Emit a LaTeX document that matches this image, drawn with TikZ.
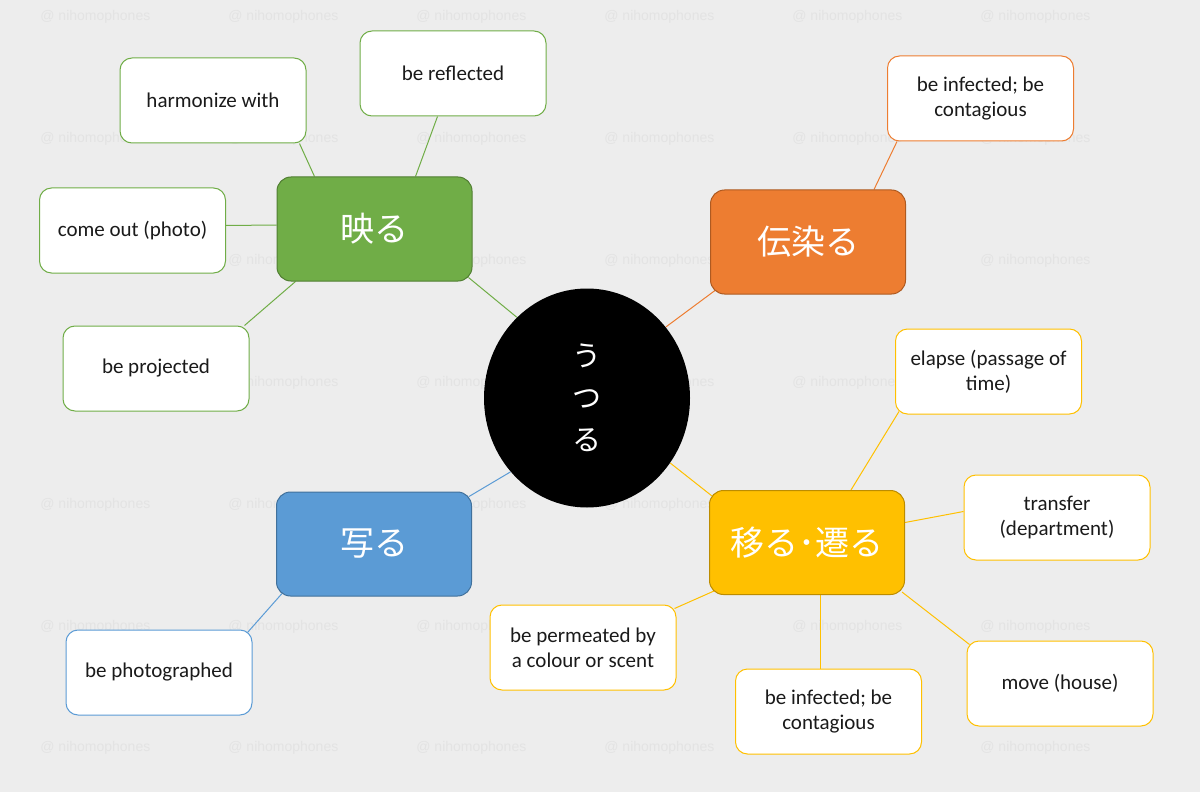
\documentclass[tikz,border=0pt]{standalone}
\usepackage{fontspec}
\setmainfont{Carlito}
\newfontfamily\jpfont{Noto Sans CJK JP}
\newfontfamily\wmfont{Liberation Sans}
\usetikzlibrary{calc,shapes.geometric}
\pgfdeclarelayer{background}
\pgfsetlayers{background,main}
\definecolor{bg}{HTML}{EDEDED}
\definecolor{wm}{HTML}{E3E3E3}
\definecolor{gr}{HTML}{70AD47}
\definecolor{grd}{HTML}{507E32}
\definecolor{org}{HTML}{ED7D31}
\definecolor{orgd}{HTML}{AE5A21}
\definecolor{yel}{HTML}{FFC000}
\definecolor{yeld}{HTML}{BC8C00}
\definecolor{blu}{HTML}{5B9BD5}
\definecolor{blud}{HTML}{41719C}
\definecolor{txt}{HTML}{1A1A1A}
\tikzset{
  leaf/.style={draw, line width=0.5pt, fill=white, rounded corners=6pt,
    minimum width=93pt, minimum height=42.5pt, inner sep=0pt, align=center,
    text=txt, font=\fontsize{10.5}{12.5}\selectfont},
  hub/.style={draw, line width=0.5pt, rounded corners=7pt,
    minimum width=97.5pt, minimum height=52pt, inner sep=0pt,
    text=white, font=\jpfont\fontsize{17}{19}\selectfont},
  link/.style={line width=0.5pt},
  wmark/.style={anchor=west, text=wm, font=\wmfont\fontsize{7}{8}\selectfont, inner sep=0pt}
}
\begin{document}
\begin{tikzpicture}[x=0.5pt,y=-0.5pt]
\useasboundingbox (0,0) rectangle (1200,792);
% centre
\node[ellipse, fill=black, minimum width=103pt, minimum height=109.5pt, inner sep=0pt,
  text=white, align=center, font=\jpfont\fontsize{14.5}{21}\selectfont] (c) at (587,398) {う\\つ\\る};
% hubs
\node[hub, fill=gr, draw=grd] (ut) at (374.5,229) {映る};
\node[hub, fill=org, draw=orgd] (den) at (808,242) {伝染る};
\node[hub, fill=yel, draw=yeld] (mv) at (807,542.5) {移る･遷る};
\node[hub, fill=blu, draw=blud] (sh) at (374,544) {写る};
% leaves
\node[leaf, draw=gr] (harm) at (213,100.5) {harmonize with};
\node[leaf, draw=gr] (refl) at (453,73.5) {be reflected};
\node[leaf, draw=gr] (come) at (132.5,230.5) {come out (photo)};
\node[leaf, draw=gr] (proj) at (156,368.5) {be projected};
\node[leaf, draw=org] (inf1) at (980.5,98.5) {be infected; be\\contagious};
\node[leaf, draw=yel] (el) at (988.5,371.5) {elapse (passage of\\time)};
\node[leaf, draw=yel] (tr) at (1057,517.5) {transfer\\(department)};
\node[leaf, draw=yel] (perm) at (583,647.5) {be permeated by\\a colour or scent};
\node[leaf, draw=yel] (inf2) at (828.5,711.5) {be infected; be\\contagious};
\node[leaf, draw=yel] (mvh) at (1060,683.5) {move (house)};
\node[leaf, draw=blu] (ph) at (159,672.5) {be photographed};
\begin{pgfonlayer}{background}
\fill[bg] (0,0) rectangle (1200,792);
\foreach \x/\y in {40/17,228/17,416/17,604/17,792/17,980/17,
    40/139,228/139,416/139,604/139,792/139,980/139,
    40/261,228/261,416/261,604/261,980/261,
    228/383,416/383,604/383,792/383,
    40/505,228/505,416/505,604/505,
    40/627,228/627,416/627,792/627,980/627,
    40/748,228/748,416/748,604/748,792/748,980/748}
    \node[wmark] at (\x,\y) {@ nihomophones};
% green
\draw[link, gr] ($(harm.south west)+(180,0)$) -- ($(ut.north west)+(38,0)$);
\draw[link, gr] ($(refl.south west)+(78,0)$) -- ($(ut.north west)+(139,0)$);
\draw[link, gr] ($(come.east)+(0,-5)$) -- ($(ut.west)+(0,-4)$);
\draw[link, gr] ($(proj.north west)+(182,0)$) -- ($(ut.south west)+(19,0)$);
\draw[link, gr] ($(ut.south east)+(-4,-4)$) -- (c.131);
% orange
\draw[link, org] ($(den.south west)+(5,-4)$) -- (c.42);
\draw[link, org] ($(inf1.south west)+(10,0)$) -- ($(den.north west)+(164,0)$);
% yellow
\draw[link, yel] (c.-38) -- ($(mv.north west)+(3,6)$);
\draw[link, yel] ($(el.south west)+(4,-3)$) -- ($(mv.north west)+(142,0)$);
\draw[link, yel] ($(tr.west)+(0,-6)$) -- ($(mv.east)+(0,-20)$);
\draw[link, yel] ($(perm.north east)+(-2,4)$) -- ($(mv.south west)+(5,-4)$);
\draw[link, yel] ($(mv.south west)+(111,0)$) -- ($(inf2.north west)+(85,0)$);
\draw[link, yel] ($(mv.south east)+(-3,-3)$) -- ($(mvh.north west)+(3,4)$);
% blue
\draw[link, blu] (c.224) -- ($(sh.north east)+(-3,5)$);
\draw[link, blu] ($(sh.south west)+(6,-3)$) -- ($(ph.north west)+(182,3)$);
\end{pgfonlayer}
\end{tikzpicture}
\end{document}
